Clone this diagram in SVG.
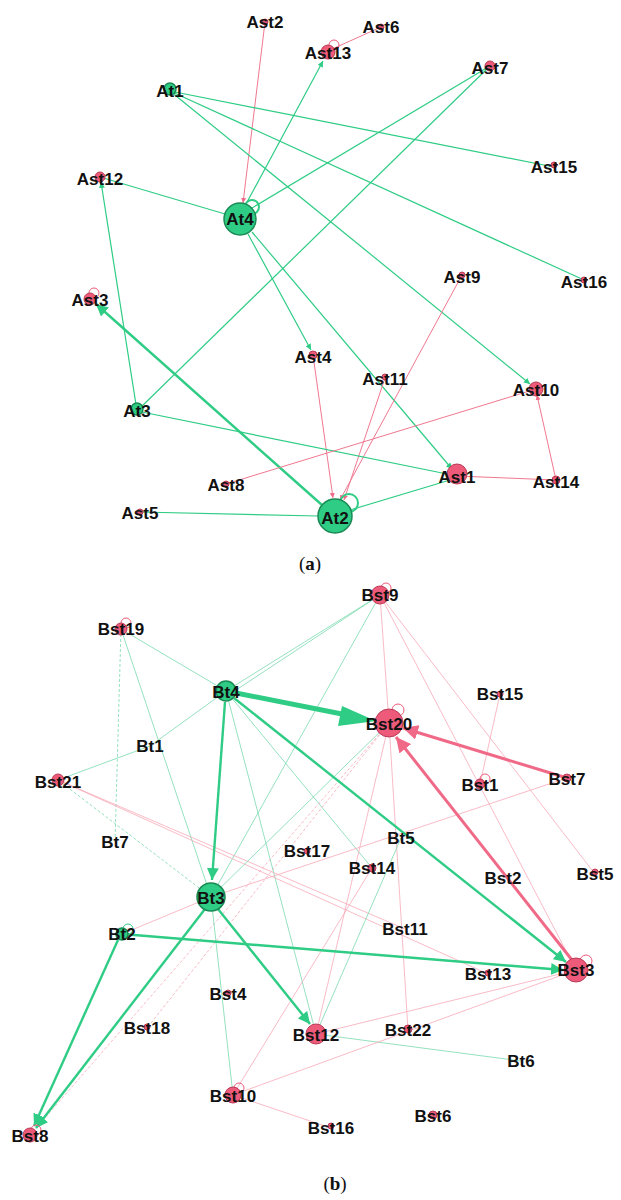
<svg xmlns="http://www.w3.org/2000/svg" width="621" height="1200" viewBox="0 0 621 1200">
<defs>
<style>
text{font-family:"Liberation Sans",Arial,sans-serif;font-weight:bold;font-size:17px;fill:#111;text-anchor:middle;dominant-baseline:central}
.cap{font-family:"Liberation Serif","Times New Roman",serif;font-weight:normal;font-size:19px}
.g{stroke:#2ecc84;stroke-width:1.2;fill:none}
.gt{stroke:#2ecc84;stroke-width:2.4;fill:none}
.p{stroke:#f07890;stroke-width:1;fill:none}
.pt{stroke:#f06a88;stroke-width:3;fill:none}
.gd{stroke:#7ad9ae;stroke-width:0.8;fill:none}
.pd{stroke:#f7a9b8;stroke-width:0.8;fill:none}
.dash{stroke-dasharray:3 2}
.gn{fill:#2ecc84;stroke:#1a8a55;stroke-width:1.5}
.pn{fill:#ee5b7a;stroke:#b83a56;stroke-width:1}
.lp{fill:none;stroke:#ee5b7a;stroke-width:1}
.lg{fill:none;stroke:#2ecc84;stroke-width:2}
</style>
<marker id="ag" viewBox="0 0 10 10" refX="10" refY="5" markerWidth="5" markerHeight="5" orient="auto"><path d="M0,0L10,5L0,10z" fill="#2ecc84"/></marker>
<marker id="ap" viewBox="0 0 10 10" refX="10" refY="5" markerWidth="5" markerHeight="5" orient="auto"><path d="M0,0L10,5L0,10z" fill="#f06a88"/></marker>
</defs>
<g id="connectors">
<!-- (a) -->
<line class="p" x1="265" y1="22" x2="243" y2="203" marker-end="url(#ap)"/>
<line class="p" x1="381" y1="27" x2="330" y2="50"/>
<line class="g" x1="246" y1="204" x2="323" y2="61" marker-end="url(#ag)"/>
<line class="g" x1="252" y1="208" x2="490" y2="66"/>
<line class="g" x1="170" y1="91" x2="554" y2="167"/>
<line class="g" x1="170" y1="91" x2="584" y2="280"/>
<line class="g" x1="170" y1="91" x2="530" y2="384" marker-end="url(#ag)"/>
<line class="g" x1="100" y1="177" x2="225" y2="214"/>
<line class="g" x1="137" y1="411" x2="101" y2="182" marker-end="url(#ag)"/>
<line class="g" x1="137" y1="411" x2="490" y2="66"/>
<line class="g" x1="248" y1="234" x2="311" y2="350" marker-end="url(#ag)"/>
<line class="g" x1="252" y1="232" x2="452" y2="469" marker-end="url(#ag)"/>
<line class="gt" x1="322" y1="505" x2="96" y2="304" marker-end="url(#ag)"/>
<line class="p" x1="462" y1="275" x2="340" y2="500" marker-end="url(#ap)"/>
<line class="p" x1="385" y1="378" x2="344" y2="500" marker-end="url(#ap)"/>
<line class="p" x1="313" y1="355" x2="333" y2="498" marker-end="url(#ap)"/>
<line class="g" x1="137" y1="411" x2="457" y2="476"/>
<line class="p" x1="226" y1="484" x2="536" y2="389"/>
<line class="p" x1="556" y1="480" x2="537" y2="395" marker-end="url(#ap)"/>
<line class="p" x1="457" y1="476" x2="556" y2="480"/>
<line class="g" x1="350" y1="510" x2="450" y2="480"/>
<line class="g" x1="140" y1="512" x2="318" y2="516"/>
<!-- (b) thin -->
<line class="gd" x1="121" y1="629" x2="226" y2="691"/>
<line class="gd dash" x1="121" y1="629" x2="115" y2="842"/>
<line class="gd" x1="121" y1="629" x2="211" y2="897"/>
<line class="gd" x1="380" y1="595" x2="226" y2="691"/>
<line class="gd" x1="380" y1="595" x2="230" y2="694"/>
<line class="gd" x1="380" y1="595" x2="211" y2="897"/>
<line class="pd" x1="380" y1="595" x2="389" y2="723"/>
<line class="pd" x1="380" y1="595" x2="595" y2="874"/>
<line class="pd" x1="380" y1="595" x2="576" y2="970"/>
<line class="gd" x1="226" y1="691" x2="150" y2="746"/>
<line class="gd" x1="150" y1="746" x2="58" y2="780"/>
<line class="gd" x1="226" y1="691" x2="372" y2="868"/>
<line class="gd" x1="226" y1="691" x2="316" y2="1034"/>
<line class="gd dash" x1="58" y1="780" x2="211" y2="897"/>
<line class="pd" x1="58" y1="780" x2="405" y2="929"/>
<line class="pd" x1="58" y1="780" x2="488" y2="974"/>
<line class="pd" x1="500" y1="694" x2="480" y2="784"/>
<line class="pd" x1="567" y1="778" x2="211" y2="897"/>
<line class="pd dash" x1="389" y1="723" x2="147" y2="1028"/>
<line class="pd dash" x1="389" y1="723" x2="30" y2="1135"/>
<line class="pd" x1="389" y1="723" x2="316" y2="1034"/>
<line class="pd" x1="389" y1="723" x2="408" y2="1030"/>
<line class="gd" x1="389" y1="723" x2="211" y2="897"/>
<line class="gd" x1="401" y1="838" x2="316" y2="1034"/>
<line class="pd" x1="372" y1="868" x2="233" y2="1095"/>
<line class="gd" x1="211" y1="897" x2="233" y2="1095"/>
<line class="pd" x1="211" y1="897" x2="122" y2="934"/>
<line class="gd" x1="316" y1="1034" x2="521" y2="1061"/>
<line class="pd" x1="316" y1="1034" x2="576" y2="970"/>
<line class="pd" x1="233" y1="1095" x2="576" y2="970"/>
<line class="pd" x1="233" y1="1095" x2="331" y2="1128"/>
<!-- (b) thick -->
<line stroke="#2ecc84" stroke-width="5" x1="226" y1="691" x2="352" y2="716"/>
<path d="M342,706L376,721L338,726z" fill="#2ecc84"/>
<line class="gt" x1="225" y1="702" x2="212" y2="880" marker-end="url(#ag)"/>
<line class="gt" x1="234" y1="698" x2="566" y2="962" marker-end="url(#ag)"/>
<line class="pt" x1="567" y1="778" x2="403" y2="728" marker-end="url(#ap)"/>
<line class="pt" x1="572" y1="960" x2="396" y2="737" marker-end="url(#ap)"/>
<line class="gt" x1="218" y1="909" x2="310" y2="1024" marker-end="url(#ag)"/>
<line class="gt" x1="205" y1="909" x2="36" y2="1128" marker-end="url(#ag)"/>
<line class="gt" x1="122" y1="934" x2="563" y2="970" marker-end="url(#ag)"/>
<line class="gt" x1="118" y1="940" x2="34" y2="1126" marker-end="url(#ag)"/>
</g>
<!-- (a) nodes -->
<g id="Ast2"><circle class="pn" cx="265" cy="22" r="3"/><text x="265" y="22">Ast2</text></g>
<g id="Ast6"><circle class="pn" cx="381" cy="27" r="3"/><text x="381" y="27">Ast6</text></g>
<g id="Ast13"><circle class="lp" cx="334" cy="45" r="5"/><circle class="pn" cx="328" cy="52" r="7"/><text x="328" y="53">Ast13</text></g>
<g id="Ast7"><circle class="pn" cx="490" cy="66" r="5"/><text x="490" y="68">Ast7</text></g>
<g id="At1"><circle class="gn" cx="170" cy="89" r="6"/><text x="170" y="91">At1</text></g>
<g id="Ast15"><circle class="pn" cx="554" cy="165" r="3"/><text x="554" y="167">Ast15</text></g>
<g id="Ast12"><circle class="pn" cx="100" cy="177" r="5"/><text x="100" y="179">Ast12</text></g>
<g id="At4"><circle class="lg" cx="252" cy="207" r="7"/><circle class="gn" cx="240" cy="219" r="16"/><text x="240" y="219">At4</text></g>
<g id="Ast16"><circle class="pn" cx="584" cy="280" r="3"/><text x="584" y="282">Ast16</text></g>
<g id="Ast9"><circle class="pn" cx="462" cy="275" r="3"/><text x="462" y="277">Ast9</text></g>
<g id="Ast3"><circle class="lp" cx="94" cy="293" r="5"/><circle class="pn" cx="90" cy="299" r="6"/><text x="90" y="300">Ast3</text></g>
<g id="Ast4"><circle class="pn" cx="313" cy="355" r="4"/><text x="313" y="357">Ast4</text></g>
<g id="Ast11"><circle class="pn" cx="385" cy="377" r="3"/><text x="385" y="379">Ast11</text></g>
<g id="Ast10"><circle class="pn" cx="536" cy="389" r="7"/><text x="536" y="390">Ast10</text></g>
<g id="At3"><circle class="gn" cx="137" cy="409" r="6"/><text x="137" y="411">At3</text></g>
<g id="Ast1"><circle class="pn" cx="457" cy="474" r="10"/><text x="457" y="477">Ast1</text></g>
<g id="Ast14"><circle class="pn" cx="556" cy="480" r="4"/><text x="556" y="482">Ast14</text></g>
<g id="Ast8"><circle class="pn" cx="226" cy="484" r="3"/><text x="226" y="485">Ast8</text></g>
<g id="Ast5"><circle class="pn" cx="140" cy="512" r="3"/><text x="140" y="513">Ast5</text></g>
<g id="At2"><circle class="lg" cx="349" cy="503" r="9"/><circle class="gn" cx="335" cy="516" r="17"/><text x="335" y="518">At2</text></g>
<text class="cap" x="310" y="563">(<tspan font-weight="bold">a</tspan>)</text>
<!-- (b) nodes -->
<g id="Bst9"><circle class="lp" cx="386" cy="588" r="5"/><circle class="pn" cx="380" cy="595" r="9"/><text x="380" y="595">Bst9</text></g>
<g id="Bst19"><circle class="lp" cx="126" cy="623" r="5"/><circle class="pn" cx="121" cy="629" r="6"/><text x="121" y="629">Bst19</text></g>
<g id="Bt4"><circle class="gn" cx="226" cy="691" r="10"/><text x="226" y="692">Bt4</text></g>
<g id="Bst20"><circle class="lp" cx="398" cy="710" r="6"/><circle class="pn" cx="389" cy="723" r="14"/><text x="389" y="724">Bst20</text></g>
<g id="Bst15"><circle class="pn" cx="500" cy="694" r="3"/><text x="500" y="694">Bst15</text></g>
<g id="Bt1"><text x="150" y="746">Bt1</text></g>
<g id="Bst21"><circle class="pn" cx="58" cy="780" r="6"/><text x="58" y="782">Bst21</text></g>
<g id="Bst1"><circle class="lp" cx="485" cy="779" r="5"/><circle class="pn" cx="480" cy="784" r="5"/><text x="480" y="785">Bst1</text></g>
<g id="Bst7"><circle class="pn" cx="567" cy="778" r="4"/><text x="567" y="779">Bst7</text></g>
<g id="Bt7"><text x="115" y="842">Bt7</text></g>
<g id="Bst17"><circle class="pn" cx="307" cy="851" r="3"/><text x="307" y="851">Bst17</text></g>
<g id="Bt5"><text x="401" y="838">Bt5</text></g>
<g id="Bst14"><circle class="pn" cx="372" cy="868" r="4"/><text x="372" y="868">Bst14</text></g>
<g id="Bst2"><text x="503" y="878">Bst2</text></g>
<g id="Bst5"><circle class="pn" cx="595" cy="872" r="3"/><text x="595" y="874">Bst5</text></g>
<g id="Bt3"><circle class="gn" cx="211" cy="897" r="14"/><text x="211" y="898">Bt3</text></g>
<g id="Bst11"><text x="405" y="929">Bst11</text></g>
<g id="Bt2"><circle class="lg" cx="128" cy="929" r="5" style="stroke-width:1"/><circle class="gn" cx="122" cy="934" r="6"/><text x="122" y="934">Bt2</text></g>
<g id="Bst13"><circle class="pn" cx="488" cy="973" r="3"/><text x="488" y="974">Bst13</text></g>
<g id="Bst3"><circle class="lp" cx="586" cy="961" r="6"/><circle class="pn" cx="576" cy="970" r="12"/><text x="576" y="970">Bst3</text></g>
<g id="Bst4"><circle class="pn" cx="228" cy="993" r="3"/><text x="228" y="994">Bst4</text></g>
<g id="Bst18"><circle class="pn" cx="147" cy="1027" r="3"/><text x="147" y="1028">Bst18</text></g>
<g id="Bst12"><circle class="pn" cx="316" cy="1034" r="10"/><text x="316" y="1035">Bst12</text></g>
<g id="Bst22"><circle class="pn" cx="408" cy="1029" r="4"/><text x="408" y="1030">Bst22</text></g>
<g id="Bt6"><text x="521" y="1061">Bt6</text></g>
<g id="Bst10"><circle class="lp" cx="239" cy="1088" r="5"/><circle class="pn" cx="233" cy="1095" r="8"/><text x="233" y="1096">Bst10</text></g>
<g id="Bst16"><circle class="pn" cx="331" cy="1126" r="3"/><text x="331" y="1128">Bst16</text></g>
<g id="Bst6"><circle class="pn" cx="433" cy="1115" r="4"/><text x="433" y="1116">Bst6</text></g>
<g id="Bst8"><circle class="lp" cx="36" cy="1130" r="5"/><circle class="pn" cx="30" cy="1135" r="7"/><text x="30" y="1136">Bst8</text></g>
<text class="cap" x="335" y="1183">(<tspan font-weight="bold">b</tspan>)</text>
</svg>
